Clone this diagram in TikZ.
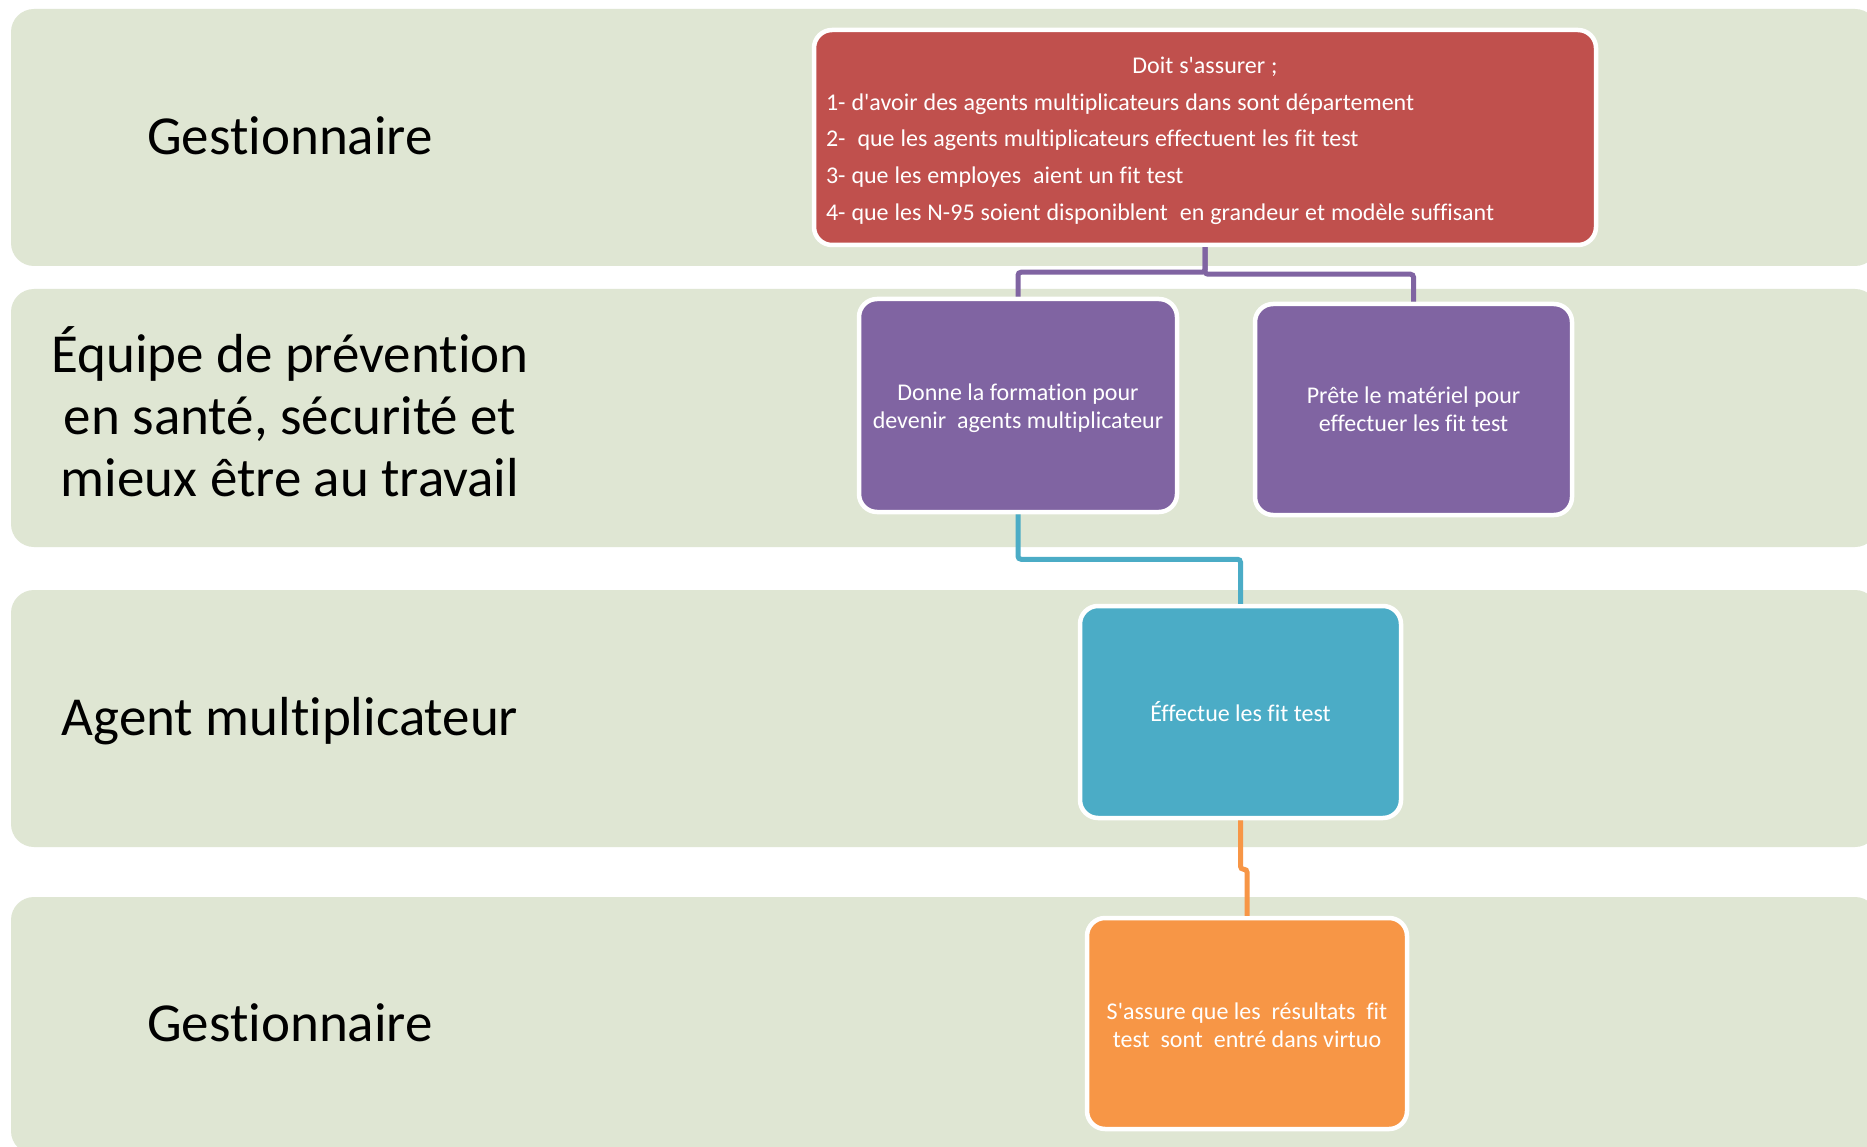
\documentclass[tikz,border=0pt]{standalone}
\usepackage{fontspec}
\setmainfont{Carlito}[Ligatures=NoCommon]
\newcommand{\sq}{\textquotesingle}
\definecolor{bandc}{HTML}{DFE6D3}
\definecolor{cred}{HTML}{C0504D}
\definecolor{cpurple}{HTML}{8064A2}
\definecolor{cteal}{HTML}{4BACC6}
\definecolor{corange}{HTML}{F79646}
\begin{document}
\begin{tikzpicture}[x=1pt,y=-1pt,
  lane/.style={fill=bandc, rounded corners=23pt},
  lanelabel/.style={font=\fontsize{55}{62}\selectfont, align=center, text=black, inner sep=0pt},
  card/.style={draw=white, line width=4.5pt, rounded corners=18pt, text=white, align=center,
    font=\fontsize{24}{27.5}\selectfont, inner sep=8pt},
  link/.style={line width=5pt, rounded corners=3pt}
]
\useasboundingbox (0,0) rectangle (1867,1147);
\clip (0,0) rectangle (1867,1147);
\fill[white] (0,0) rectangle (1867,1147);

% swim lanes
\fill[lane] (11,9) rectangle (1878,266);
\fill[lane] (11,289) rectangle (1878,547);
\fill[lane] (11,590) rectangle (1878,847);
\fill[lane] (11,897) rectangle (1878,1154);

% lane labels
\node[lanelabel, anchor=base] (l1) at (290,155) {Gestionnaire};
\node[lanelabel] (l2) at (290,412) {Équipe de prévention\\en santé, sécurité et\\mieux être au travail};
\node[lanelabel, anchor=base] (l3) at (290,735) {Agent multiplicateur};
\node[lanelabel, anchor=base] (l4) at (290,1041) {Gestionnaire};

% cards
\node[card, fill=cred, text width=758pt, inner sep=12pt, minimum height=215pt, align=left,
      font=\fontsize{24}{36.7}\selectfont] (red) at (1205,137.5)
  {\spaceskip=6pt plus 1pt minus 1pt
   \rule{0pt}{23pt}\makebox[758pt][c]{Doit s\sq assurer ;}\\
   1- d\sq avoir des agents multiplicateurs dans sont département\\
   2-\ \ que les agents multiplicateurs effectuent les fit test\\
   3- que les employes\ \ aient un fit test\\
   4- que les N-95 soient disponiblent\ \ en grandeur et modèle suffisant};

\node[card, fill=cpurple, minimum width=318pt, minimum height=213pt] (lbox) at (1018,405.5)
  {\rule{0pt}{22pt}Donne la formation pour\\devenir\ \ agents multiplicateur};
\node[card, fill=cpurple, minimum width=317pt, minimum height=211pt] (rbox) at (1413.5,409.5)
  {Prête le matériel pour\\effectuer les fit test};
\node[card, fill=cteal, minimum width=321pt, minimum height=212pt] (teal) at (1240.5,712)
  {Éffectue les fit test};
\node[card, fill=corange, minimum width=320pt, minimum height=211pt] (orange) at (1247,1023.5)
  {\rule{0pt}{20pt}S\sq assure que les\ \ résultats\ \ fit\\test\ \ sont\ \ entré dans virtuo};

% connectors
\draw[link, cpurple] (red.south) -- ++(0,25) -| (lbox.north);
\draw[link, cpurple] (red.south) -- ++(0,27) -| (rbox.north);
\draw[link, cteal] (lbox.south) -- ++(0,45) -| (teal.north);
\draw[link, corange] (teal.south) -- ++(0,49) -| (orange.north);
\end{tikzpicture}
\end{document}
